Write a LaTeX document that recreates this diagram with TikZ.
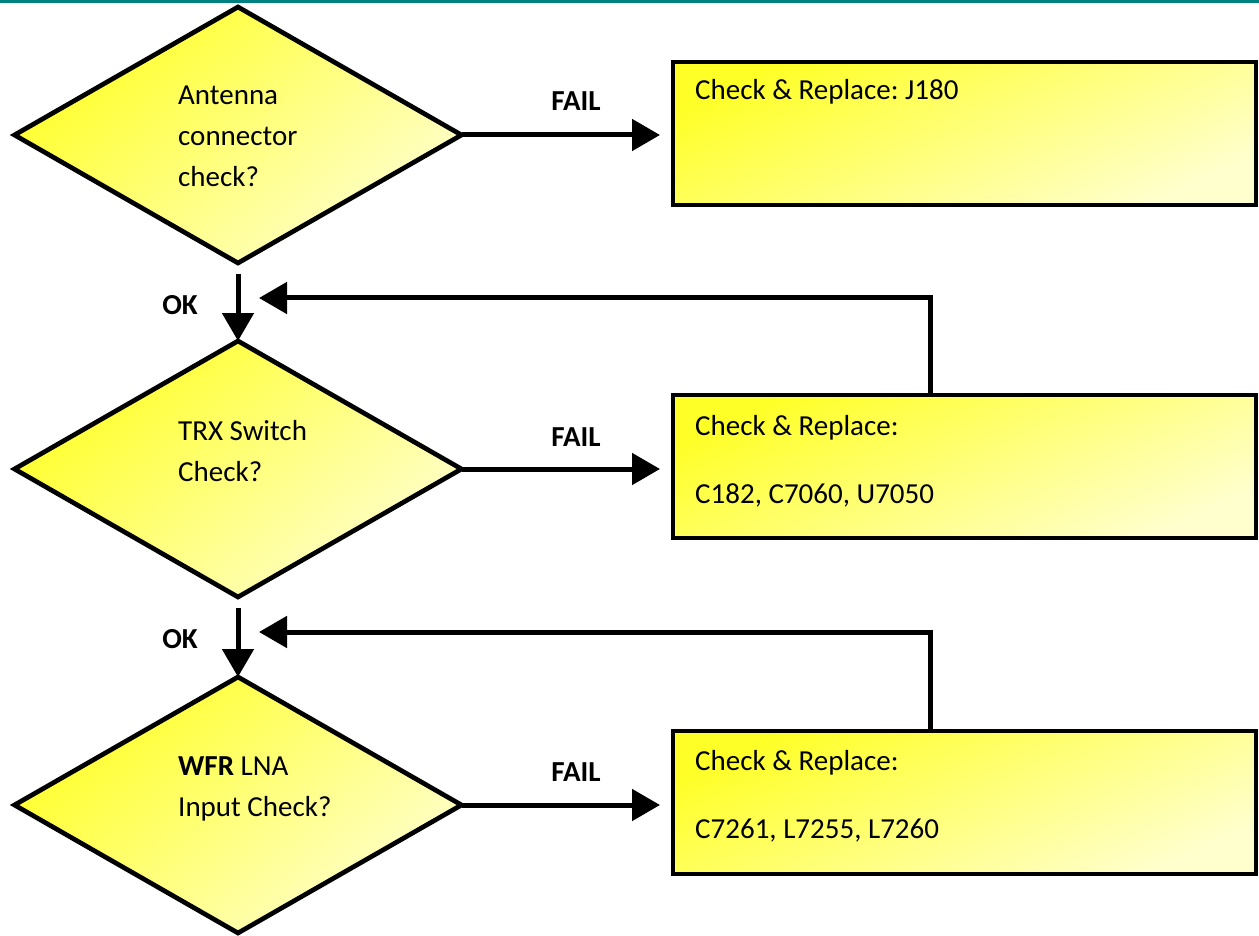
\documentclass[tikz,border=0pt]{standalone}
\usepackage{fontspec}
\setmainfont{Carlito}
\frenchspacing
\usetikzlibrary{shapes.geometric,arrows.meta}
\definecolor{yTop}{RGB}{255,255,40}
\definecolor{yBot}{RGB}{255,255,205}
\definecolor{tealbar}{RGB}{0,128,128}
\tikzset{
  decision/.style={draw=black, line width=4.7pt, shape=diamond, outer sep=0pt, inner sep=0pt,
    minimum width=447pt, minimum height=256pt, top color=yTop, bottom color=yBot, shading angle=40},
  actbox/.style={draw=black, line width=4.7pt, rectangle, outer sep=0pt, inner sep=0pt,
    minimum width=583pt, minimum height=143pt, top color=yTop, bottom color=yBot, shading angle=25},
  txt/.style={anchor=base west, inner sep=0pt, font=\fontsize{29}{35}\selectfont},
  lbl/.style={anchor=base, inner sep=0pt, font=\fontsize{29}{35}\selectfont\bfseries},
  arr/.style={line width=5pt, -{Triangle[length=28pt, width=31pt]}},
}
\begin{document}
\begin{tikzpicture}[x=1pt, y=-1pt]
\useasboundingbox (0,0) rectangle (1259,936);
\fill[tealbar] (0,0) rectangle (1259,3);

% decisions
\node[decision] (d1) at (238,135) {};
\node[decision] (d2) at (238,469) {};
\node[decision] (d3) at (238,805) {};

\node[txt] (t1a) at (178,105) {Antenna};
\node[txt] (t1b) at (178,146) {connector};
\node[txt] (t1c) at (178,187) {check?};
\node[txt] (t2a) at (178,440) {TRX Switch};
\node[txt] (t2b) at (178,481) {Check?};
\node[txt] (t3a) at (178,775) {\textbf{WFR} LNA};
\node[txt] (t3b) at (178,816) {Input Check?};

% boxes
\node[actbox] (b1) at (964.5,133.5) {};
\node[actbox] (b2) at (964.5,466.5) {};
\node[actbox] (b3) at (964.5,802.5) {};

\node[txt] (b1a) at (695,100) {Check \& Replace: J180};
\node[txt] (b2a) at (695,435) {Check \& Replace:};
\node[txt] (b2b) at (695,503) {C182, C7060, U7050};
\node[txt] (b3a) at (695,770) {Check \& Replace:};
\node[txt] (b3b) at (695,838) {C7261, L7255, L7260};

% FAIL arrows
\draw[arr] (d1.east) -- ([xshift=-13pt]b1.west |- d1.east);
\draw[arr] (d2.east) -- ([xshift=-13pt]b2.west |- d2.east);
\draw[arr] (d3.east) -- ([xshift=-13pt]b3.west |- d3.east);
\node[lbl] (f1) at (576,111) {FAIL};
\node[lbl] (f2) at (576,446) {FAIL};
\node[lbl] (f3) at (576,781) {FAIL};

% OK arrows
\draw[arr] ([yshift=-11pt]d1.south) -- (d2.north);
\draw[arr] ([yshift=-11pt]d2.south) -- (d3.north);
\node[lbl] (o1) at (180,314) {OK};
\node[lbl] (o2) at (180,648) {OK};

% return arrows
\coordinate (r1) at (259,298);
\coordinate (r2) at (259,632);
\draw[arr] ([xshift=-34pt]b2.north) |- (r1);
\draw[arr] ([xshift=-34pt]b3.north) |- (r2);
\end{tikzpicture}
\end{document}
